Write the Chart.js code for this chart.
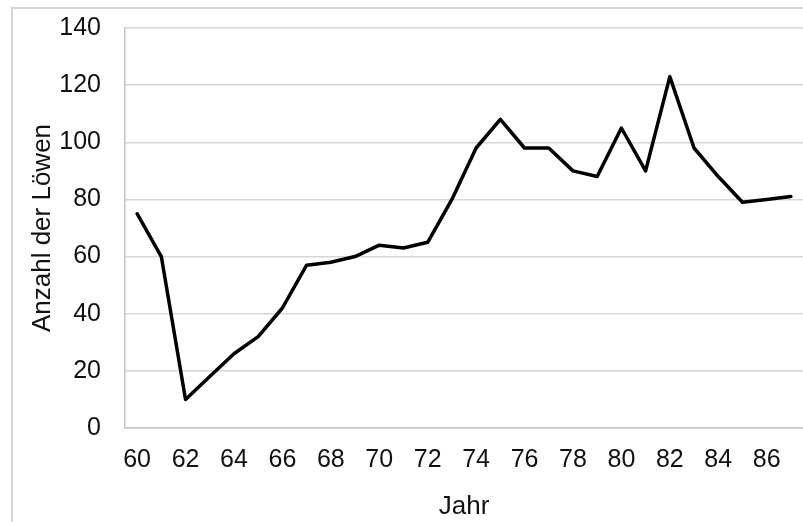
<!DOCTYPE html>
<html>
<head>
<meta charset="utf-8">
<script src="https://cdn.jsdelivr.net/npm/chart.js@4"></script>
<style>
  html, body { margin: 0; padding: 0; background: #ffffff; }
  #wrap { width: 803px; height: 522px; position: relative; }
</style>
</head>
<body>
<div id="wrap"><canvas id="LionChart"></canvas></div>
<script>
// Data block
const years = ['60', '61', '62', '63', '64', '65', '66', '67', '68', '69',
               '70', '71', '72', '73', '74', '75', '76', '77', '78', '79',
               '80', '81', '82', '83', '84', '85', '86', '87'];
const lionCounts = [75, 60, 10, 18, 26, 32, 42, 57, 58, 60,
                    64, 63, 65, 80, 98, 108, 98, 98, 90, 88,
                    105, 90, 123, 98, 88, 79, 80, 81];
const yTicks = [0, 20, 40, 60, 80, 100, 120, 140];

// Frame plugin block (light grey border round the chart)
const chartFrame = {
    id: 'chartFrame',
    beforeDraw(chart) {
        const ctx = chart.ctx;
        ctx.save();
        ctx.strokeStyle = '#d6d6d6';
        ctx.lineWidth = 2;
        ctx.strokeRect(12, 8, chart.width + 20, chart.height + 20);
        ctx.restore();
    }
};

// Config block
const lionConfig = {
    type: 'line',
    data: {
        labels: years,
        datasets: [{
            label: 'Anzahl der Löwen',
            data: lionCounts,
            borderColor: '#000000',
            borderWidth: 3.5,
            pointRadius: 0,
            tension: 0,
            borderJoinStyle: 'round',
            borderCapStyle: 'round'
        }]
    },
    options: {
        responsive: true,
        maintainAspectRatio: false,
        animation: false,
        layout: { padding: { top: 28, right: 0, left: 0, bottom: 0 } },
        plugins: {
            legend: { display: false },
            tooltip: { enabled: false }
        },
        scales: {
            x: {
                offset: true,
                grid: { display: false, drawTicks: false },
                border: { color: '#c4c4c4', width: 1.5 },
                ticks: {
                    autoSkip: false,
                    maxRotation: 0,
                    padding: 17,
                    color: '#111',
                    font: { family: 'Liberation Sans, Arial', size: 25 },
                    // Only every second year gets a label
                    callback: function(value, index) {
                        return index % 2 === 0 ? years[index] : '';
                    }
                },
                title: {
                    display: true,
                    text: 'Jahr',
                    color: '#111',
                    font: { family: 'Liberation Sans, Arial', size: 26 },
                    padding: { top: 0, bottom: 0 }
                },
                afterFit(scale) {
                    scale.height = 94;
                    scale.paddingLeft = 0;
                    scale.paddingRight = 0;
                }
            },
            y: {
                min: 0,
                max: 140,
                grid: { color: '#d6d6d6', lineWidth: 1.5, drawTicks: false },
                border: { color: '#c4c4c4', width: 1.5 },
                afterBuildTicks(scale) {
                    scale.ticks = yTicks.map(v => ({ value: v }));
                },
                ticks: {
                    padding: 24,
                    color: '#111',
                    font: { family: 'Liberation Sans, Arial', size: 25 }
                },
                title: {
                    display: true,
                    text: 'Anzahl der Löwen',
                    color: '#111',
                    font: { family: 'Liberation Sans, Arial', size: 26 },
                    padding: { top: 27, bottom: 0 }
                },
                afterFit(scale) {
                    scale.width = 125;
                    // Don't let the top label push the plot area down
                    scale.paddingTop = 0;
                    scale.paddingBottom = 0;
                }
            }
        }
    },
    plugins: [chartFrame]
};

// render / init block
const lionChart = new Chart(
    document.getElementById('LionChart'),
    lionConfig
);
</script>
</body>
</html>
